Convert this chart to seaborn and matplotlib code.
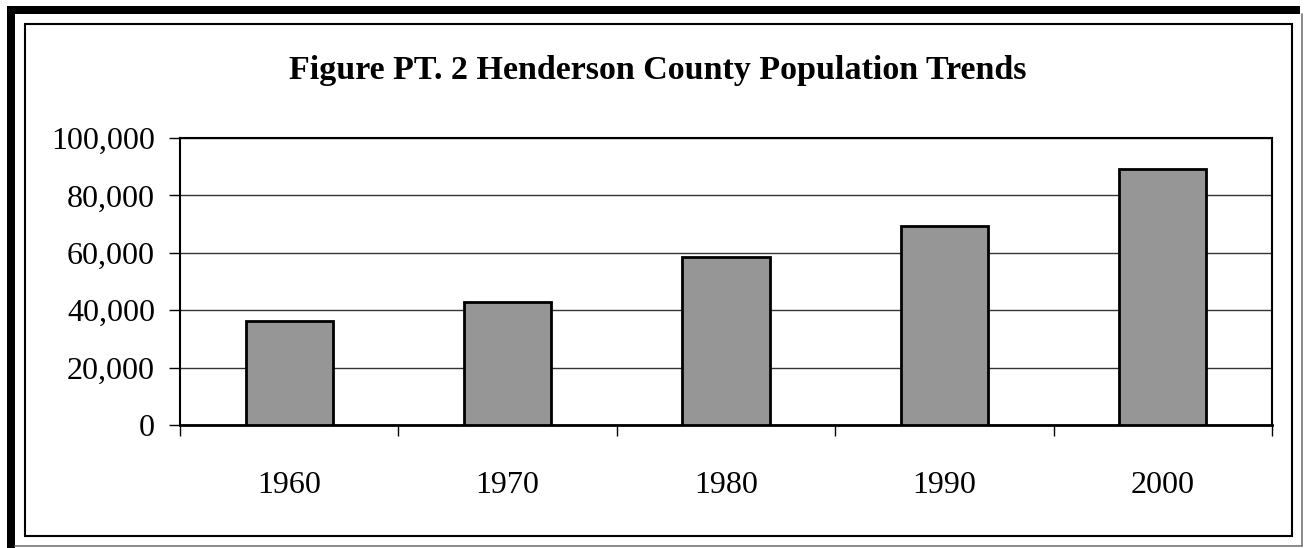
import matplotlib
matplotlib.use("Agg")
import matplotlib.pyplot as plt
import matplotlib.patches as mpatches
from matplotlib.lines import Line2D
import seaborn as sns
import pandas as pd

years = ["1960", "1970", "1980", "1990", "2000"]
population = [36163, 42804, 58580, 69285, 89173]
title = "Figure PT. 2 Henderson County Population Trends"
yticks = [0, 20000, 40000, 60000, 80000, 100000]

sns.set_theme(style="white")
plt.rcParams['font.family'] = ['Liberation Serif', 'DejaVu Serif']

W, H = 1304, 548
fig = plt.figure(figsize=(W / 100, H / 100), dpi=100)
fig.patch.set_facecolor("white")

def fx(px):
    return px / W

def fy(py):
    return 1 - py / H

ax = fig.add_axes([fx(180), fy(425), fx(1272) - fx(180), fy(138) - fy(425)])
df = pd.DataFrame({"year": years, "pop": population})
sns.barplot(data=df, x="year", y="pop", color="#969696", saturation=1,
            edgecolor="black", linewidth=2, width=0.4, ax=ax, zorder=3)

ax.set_xlim(-0.5, len(years) - 0.5)
ax.set_ylim(0, 100000)
ax.set_yticks(yticks)
ax.set_yticklabels([f"{v:,}" for v in yticks])
ax.set_xlabel("")
ax.set_ylabel("")
ax.yaxis.grid(True, color="#333333", linewidth=1.0, zorder=0)
ax.xaxis.grid(False)
ax.set_axisbelow(True)

ax.set_xticks([i - 0.5 for i in range(len(years) + 1)], minor=True)
ax.tick_params(axis="x", which="major", length=0, pad=33, labelsize=23, colors="black")
ax.tick_params(axis="x", which="minor", length=8, width=1, direction="out", color="black", bottom=True)
ax.tick_params(axis="y", which="major", length=8, width=1, direction="out", color="black",
               left=True, pad=10, labelsize=23, labelcolor="black")

for s in ax.spines.values():
    s.set_color("black")
    s.set_linewidth(1.5)
ax.spines["bottom"].set_linewidth(2)

fig.text(fx(658), fy(70), title, ha="center", va="center", fontsize=24.5, fontweight="bold", color="black")

# frames
fig.add_artist(mpatches.Rectangle((fx(25), fy(536)), fx(1292) - fx(25), fy(24) - fy(536),
                                  transform=fig.transFigure, fill=False, edgecolor="black", linewidth=1.5))
fig.add_artist(mpatches.Rectangle((fx(7), fy(548)), fx(8), fy(6) - fy(548),
                                  transform=fig.transFigure, facecolor="black", edgecolor="none"))
fig.add_artist(mpatches.Rectangle((fx(7), fy(14)), fx(1300) - fx(7), fy(6) - fy(14),
                                  transform=fig.transFigure, facecolor="black", edgecolor="none"))
fig.add_artist(Line2D([fx(1302), fx(1302)], [fy(14), fy(546)], transform=fig.transFigure,
                      color="#777777", linewidth=1.2))
fig.add_artist(Line2D([fx(15), fx(1302)], [fy(546), fy(546)], transform=fig.transFigure,
                      color="#777777", linewidth=1.2))

fig.savefig("out.png", dpi=100, facecolor="white")
